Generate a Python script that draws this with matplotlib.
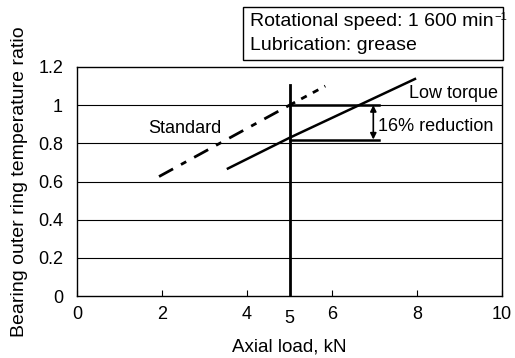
import matplotlib.pyplot as plt

plt.rcParams["font.family"] = ["Liberation Sans", "DejaVu Sans"]
plt.rcParams["lines.scale_dashes"] = False

# data
std_x = [1.93, 5.0]
std_y = [0.626, 1.0]
std_ext_x = [5.0, 5.84]
std_ext_y = [1.0, 1.10]
low_x = [3.55, 5.0, 7.95]
low_y = [0.668, 0.829, 1.137]
load_mark = 5.0
ratio_std = 1.0
ratio_low = 0.82
xticks = [0, 2, 4, 6, 8, 10]
yticks = [0, 0.2, 0.4, 0.6, 0.8, 1.0, 1.2]
ytick_labels = ["0", "0.2", "0.4", "0.6", "0.8", "1", "1.2"]

fig = plt.figure(figsize=(5.15, 3.58), dpi=100)
ax = fig.add_axes([0.1495, 0.173, 0.8255, 0.64])

for y in yticks[1:-1]:
    ax.axhline(y, color="black", lw=0.8, zorder=1)

ax.plot(std_x, std_y, color="black", lw=2.0, dashes=(11.5, 6.5, 4.3, 6.5), zorder=3)
ax.plot(std_ext_x, std_ext_y, color="black", lw=2.0, dashes=(4.5, 5), zorder=3)
ax.plot(low_x, low_y, color="black", lw=1.8, zorder=3)

ax.plot([load_mark, load_mark], [0, 1.106], color="black", lw=2.0, zorder=4)
ax.plot([load_mark, 7.1], [ratio_std, ratio_std], color="black", lw=1.8, zorder=4)
ax.plot([load_mark, 7.1], [ratio_low, ratio_low], color="black", lw=1.8, zorder=4)
ax.annotate("", xy=(6.97, ratio_std), xytext=(6.97, ratio_low),
            arrowprops=dict(arrowstyle="<|-|>", color="black", lw=1.2,
                            mutation_scale=9, shrinkA=0, shrinkB=0))

ax.text(9.9, 1.06, "Low torque", ha="right", va="center", fontsize=13)
ax.text(7.08, 0.89, "16% reduction", ha="left", va="center", fontsize=13)
ax.text(2.54, 0.88, "Standard", ha="center", va="center", fontsize=13)
ax.text(load_mark, -0.12, "5", ha="center", va="center", fontsize=13)

ax.set_xlim(0, 10)
ax.set_ylim(0, 1.2)
ax.set_xticks(xticks)
ax.set_xticklabels([str(v) for v in xticks])
ax.set_yticks(yticks)
ax.set_yticklabels(ytick_labels)
ax.tick_params(axis="x", direction="in", length=4, width=0.8, pad=7, labelsize=13)
ax.tick_params(axis="y", length=0, pad=10, labelsize=13)
for s in ax.spines.values():
    s.set_linewidth(1.0)

ax.set_xlabel("Axial load, kN", fontsize=13.5, labelpad=11)
ax.set_ylabel("Bearing outer ring temperature ratio", fontsize=14, labelpad=7)

box = plt.Rectangle((243 / 515, 1 - 60 / 358), (503 - 243) / 515, (60 - 7) / 358,
                    transform=fig.transFigure, fill=False, lw=1.0, color="black")
fig.add_artist(box)
speed = fig.text(250 / 515, 1 - 22 / 358, "Rotational speed: 1 600 min", fontsize=14, va="center")
fig.text(250 / 515, 1 - 46 / 358, "Lubrication: grease", fontsize=14, va="center")

fig.canvas.draw()
bb = speed.get_window_extent()
fig.text((bb.x1 + 1) / 515, (bb.y1 + 1) / 358, "\u22121", fontsize=8, va="top")

fig.savefig("out.png", dpi=100)
